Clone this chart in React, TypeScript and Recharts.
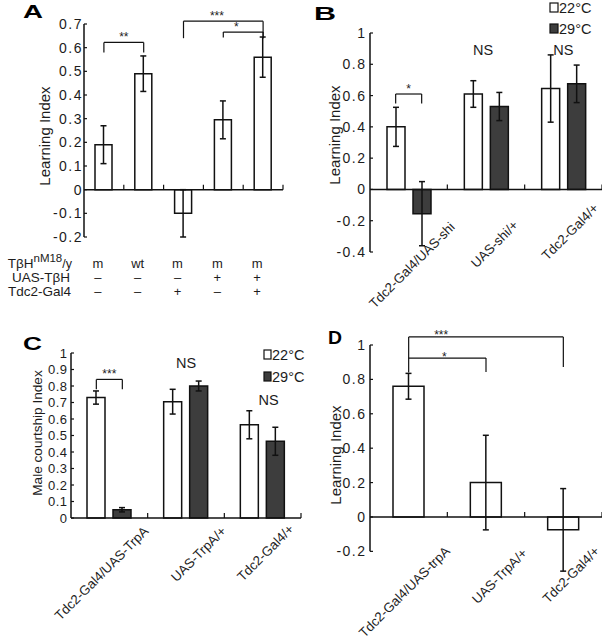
import React from 'react';
import {
  BarChart,
  Bar,
  XAxis,
  YAxis,
  ErrorBar,
  ReferenceLine,
  ReferenceArea,
  ReferenceDot,
  Legend,
} from 'recharts';

const FONT = '"Liberation Sans", Arial, Helvetica, sans-serif';
const INK = '#111111';
const TXT = '#1c1c1c';
const DARK = '#3d3d3d';

// panel A: TβH rescue
const aGenotype = ['m', 'wt', 'm', 'm', 'm'];
const aUasTbh = ['–', '–', '–', '+', '+'];
const aTdc2 = ['–', '–', '+', '–', '+'];
const aLearning = [0.19, 0.49, -0.1, 0.295, 0.56];
const aSem = [0.08, 0.075, 0.1, 0.08, 0.085];
const aTicks = [-0.2, -0.1, 0, 0.1, 0.2, 0.3, 0.4, 0.5, 0.6, 0.7];

// panel B: shibire
const bGroups = ['Tdc2-Gal4/UAS-shi', 'UAS-shi/+', 'Tdc2-Gal4/+'];
const b22 = [0.4, 0.61, 0.645];
const b22Sem = [0.125, 0.085, 0.215];
const b29 = [-0.155, 0.53, 0.675];
const b29Sem = [0.205, 0.09, 0.12];
const bTicks = [-0.4, -0.2, 0, 0.2, 0.4, 0.6, 0.8, 1];

// panel C: courtship with TrpA
const cGroups = ['Tdc2-Gal4/UAS-TrpA', 'UAS-TrpA/+', 'Tdc2-Gal4/+'];
const c22 = [0.73, 0.705, 0.565];
const c22Sem = [0.04, 0.075, 0.085];
const c29 = [0.05, 0.8, 0.465];
const c29Sem = [0.013, 0.03, 0.085];
const cTicks = [0, 0.1, 0.2, 0.3, 0.4, 0.5, 0.6, 0.7, 0.8, 0.9, 1];

// panel D: learning with TrpA
const dGroups = ['Tdc2-Gal4/UAS-trpA', 'UAS-TrpA/+', 'Tdc2-Gal4/+'];
const dLearning = [0.76, 0.2, -0.075];
const dSem = [0.075, 0.275, 0.24];
const dTicks = [-0.2, 0, 0.2, 0.4, 0.6, 0.8, 1];

const temps = ['22°C', '29°C'];

// significance brackets: from/to = bar slot, heights in index units
type Sig = { from: number; to: number; top: number; legL: number; legR: number; text: string; at?: number; drop?: number };
const aSigs: Sig[] = [
  { from: 0, to: 1, top: 0.622, legL: 0.58, legR: 0.58, text: '**' },
  { from: 2, to: 4, top: 0.712, legL: 0.64, legR: 0.64, text: '***', at: 0.42 },
  { from: 3, to: 4, top: 0.666, legL: 0.643, legR: 0.64, text: '*', at: 0.33 },
];
const bSigs: Sig[] = [{ from: 0, to: 1, top: 0.61, legL: 0.55, legR: 0.55, text: '*' }];
const cSigs: Sig[] = [{ from: 0, to: 1, top: 0.84, legL: 0.78, legR: 0.78, text: '***' }];
const dSigs: Sig[] = [
  { from: 0, to: 2, top: 1.047, legL: 0.84, legR: 0.872, text: '***', at: 0.21, drop: 4 },
  { from: 0, to: 1, top: 0.924, legL: 0.924, legR: 0.843, text: '*', at: 0.46, drop: 4 },
];

const aData = aLearning.map((v, i) => ({ key: `g${i}`, value: v, err: aSem[i] }));
const bData = bGroups.map((g, i) => ({ name: g, t22: b22[i], e22: b22Sem[i], t29: b29[i], e29: b29Sem[i] }));
const cData = cGroups.map((g, i) => ({ name: g, t22: c22[i], e22: c22Sem[i], t29: c29[i], e29: c29Sem[i] }));
const dData = dGroups.map((g, i) => ({ name: g, value: dLearning[i], err: dSem[i] }));

const BAR = 18;
const GAP = 8;

const fmt = (v: number) => {
  const r = Math.round(v * 10) / 10;
  return r === 0 ? '0' : String(r);
};

const yAxisProps = (ticks: number[], domain: [number, number], fontSize: number, spacing: number, margin: number) => ({
  width: 40,
  ticks,
  domain,
  interval: 0 as const,
  axisLine: { stroke: INK, strokeWidth: 1.5 },
  tickLine: { stroke: INK, strokeWidth: 1.2 },
  tickSize: -3,
  tickMargin: margin,
  tick: { fill: TXT, fontSize, fontFamily: FONT, letterSpacing: spacing },
  tickFormatter: fmt,
});

// zero line with small upward ticks at the category borders
const zeroAxis = (n: number) => (p: any) => {
  const step = (p.x2 - p.x1) / n;
  return (
    <g>
      <line x1={p.x1} x2={p.x2} y1={p.y1} y2={p.y1} stroke={INK} strokeWidth={1.5} />
      {Array.from({ length: n }, (_, k) => (
        <line key={k} x1={p.x1 + step * (k + 1)} x2={p.x1 + step * (k + 1)} y1={p.y1} y2={p.y1 - 5} stroke={INK} strokeWidth={1.2} />
      ))}
    </g>
  );
};

// left edge of a reference area, used as a y axis line shorter than the scale
const leftEdge = (p: any) => (
  <line x1={p.x} x2={p.x} y1={p.y} y2={p.y + p.height} stroke={INK} strokeWidth={1.5} />
);

// bar slot -> category on the x axis plus pixel shift inside the group
function slotOf(slot: number, cats: string[], paired: boolean) {
  if (!paired) return { cat: cats[slot], off: 0 };
  return { cat: cats[Math.floor(slot / 2)], off: ((slot % 2) - 0.5) * (BAR + GAP) };
}

function sigLines(s: Sig, cats: string[], paired: boolean, key: string) {
  const a = slotOf(s.from, cats, paired);
  const b = slotOf(s.to, cats, paired);
  const common = { ifOverflow: 'visible' as const };
  const leg = (off: number) => (p: any) => (
    <line x1={p.x1 + off} x2={p.x2 + off} y1={p.y1} y2={p.y2} stroke={INK} strokeWidth={1.2} />
  );
  const topLine = (p: any) => {
    const x1 = p.x1 + a.off;
    const x2 = p.x2 + b.off;
    const lx = x1 + (x2 - x1) * (s.at ?? 0.5);
    return (
      <g>
        <line x1={x1} x2={x2} y1={p.y1} y2={p.y2} stroke={INK} strokeWidth={1.2} />
        <text x={lx} y={p.y1 - 1.5 + (s.drop ?? 0)} textAnchor="middle" fontSize={12} fill={TXT} fontFamily={FONT}>
          {s.text}
        </text>
      </g>
    );
  };
  return [
    <ReferenceLine key={key + 'l'} {...common} segment={[{ x: a.cat, y: s.legL }, { x: a.cat, y: s.top }]} shape={leg(a.off)} />,
    <ReferenceLine key={key + 't'} {...common} segment={[{ x: a.cat, y: s.top }, { x: b.cat, y: s.top }]} shape={topLine} />,
    <ReferenceLine key={key + 'r'} {...common} segment={[{ x: b.cat, y: s.top }, { x: b.cat, y: s.legR }]} shape={leg(b.off)} />,
  ];
}

function nsMark(cat: string, y: number, dx: number, key: string) {
  const label = (p: any) => (
    <text x={p.viewBox.x + dx} y={p.viewBox.y} textAnchor="middle" fontSize={14.5} fill={TXT} fontFamily={FONT}>
      NS
    </text>
  );
  return <ReferenceDot key={key} x={cat} y={y} r={0} fill="none" stroke="none" ifOverflow="visible" label={label} />;
}

const aRows = [aGenotype, aUasTbh, aTdc2];
const TableTick = (p: any) => (
  <g>
    {aRows.map((row, r) => (
      <text key={r} x={p.x - 6} y={p.y + 31 + r * 14} textAnchor="middle" fontSize={13} fill={TXT} fontFamily={FONT}>
        {row[p.index]}
      </text>
    ))}
  </g>
);

const rotTick = (shift: number[][]) => (p: any) => {
  const [dx, dy] = shift[p.index] ?? [0, 0];
  const x = p.x + dx;
  const y = p.y + dy;
  return (
    <text x={x} y={y} transform={`rotate(-45 ${x} ${y})`} textAnchor="end" fontSize={13.3} fill={TXT} fontFamily={FONT}>
      {p.payload.value}
    </text>
  );
};

const tempLegend = (rowGap: number, sq: [number, number]) => (p: any) => (
  <svg width={60} height={48} style={{ overflow: 'visible', display: 'block' }}>
    {(p.payload ?? []).map((e: any, i: number) => (
      <g key={i}>
        <rect x={2} y={3 + i * rowGap} width={sq[0]} height={sq[1]} fill={e.color} stroke={INK} strokeWidth={1.2} />
        <text x={sq[0] + 3} y={12.5 + i * rowGap} fontSize={14.5} fill={TXT} fontFamily={FONT}>
          {e.value}
        </text>
      </g>
    ))}
  </svg>
);

const barStyle = { stroke: INK, strokeWidth: 1.5, isAnimationActive: false };
const errStyle = { stroke: INK, strokeWidth: 1.5, width: 3, direction: 'y' as const, isAnimationActive: false };

export default function App() {
  const aKeys = aData.map((d) => d.key);
  return (
    <div style={{ position: 'absolute', left: 0, top: 0, width: 602, height: 639, background: '#fff', overflow: 'hidden', fontFamily: FONT }}>
      {/* A */}
      <div style={{ position: 'absolute', left: 0, top: 0 }}>
        <BarChart width={300} height={320} data={aData} margin={{ top: 24, right: 17, bottom: 0, left: 44 }}>
          <XAxis dataKey="key" height={83} axisLine={false} tickLine={false} tickSize={0} tickMargin={0} interval={0} tick={TableTick} />
          <YAxis {...yAxisProps(aTicks, [-0.2, 0.7], 14, 1.5, 4)} />
          <ReferenceLine y={0} shape={zeroAxis(5)} />
          <Bar dataKey="value" fill="#ffffff" barSize={17} {...barStyle}>
            <ErrorBar dataKey="err" {...errStyle} />
          </Bar>
          {aSigs.flatMap((s, i) => sigLines(s, aKeys, false, `a${i}`))}
        </BarChart>
      </div>

      {/* B */}
      <div style={{ position: 'absolute', left: 300, top: 0 }}>
        <BarChart width={302} height={320} data={bData} barGap={GAP} margin={{ top: 33, right: 0, bottom: 0, left: 30 }}>
          <XAxis dataKey="name" height={68} axisLine={false} tickLine={false} tickSize={0} tickMargin={0} interval={0}
            tick={rotTick([[47, -24], [33, -26], [36, -43]])} />
          <YAxis {...yAxisProps(bTicks, [-0.4, 1], 14, 1.5, 6.5)} />
          <ReferenceLine y={0} shape={zeroAxis(3)} />
          <Bar dataKey="t22" name={temps[0]} fill="#ffffff" barSize={BAR} {...barStyle}>
            <ErrorBar dataKey="e22" {...errStyle} />
          </Bar>
          <Bar dataKey="t29" name={temps[1]} fill={DARK} barSize={BAR} {...barStyle}>
            <ErrorBar dataKey="e29" {...errStyle} />
          </Bar>
          {bSigs.flatMap((s, i) => sigLines(s, bGroups, true, `b${i}`))}
          {nsMark(bGroups[1], 0.86, -3, 'bns1')}
          {nsMark(bGroups[2], 0.86, 0, 'bns2')}
          <Legend layout="vertical" align="center" verticalAlign="middle" content={tempLegend(21, [8, 9])}
            wrapperStyle={{ left: 248, top: 0, width: 60, height: 48 }} />
        </BarChart>
      </div>

      {/* C */}
      <div style={{ position: 'absolute', left: 0, top: 320 }}>
        <BarChart width={310} height={319} data={cData} barGap={GAP} margin={{ top: 33, right: 9, bottom: 0, left: 31 }}>
          <XAxis dataKey="name" height={121} axisLine={false} tickLine={false} tickSize={0} tickMargin={0} interval={0}
            tick={rotTick([[40, 14], [41, 14], [32, 12]])} />
          <YAxis {...yAxisProps(cTicks, [0, 1], 13, 0.5, 6.5)} />
          <ReferenceLine y={0} shape={zeroAxis(3)} />
          <Bar dataKey="t22" name={temps[0]} fill="#ffffff" barSize={BAR} {...barStyle}>
            <ErrorBar dataKey="e22" {...errStyle} />
          </Bar>
          <Bar dataKey="t29" name={temps[1]} fill={DARK} barSize={BAR} {...barStyle}>
            <ErrorBar dataKey="e29" {...errStyle} />
          </Bar>
          {cSigs.flatMap((s, i) => sigLines(s, cGroups, true, `c${i}`))}
          {nsMark(cGroups[1], 0.91, 0, 'cns1')}
          {nsMark(cGroups[2], 0.685, 6, 'cns2')}
          <Legend layout="vertical" align="center" verticalAlign="middle" content={tempLegend(22, [7, 9])}
            wrapperStyle={{ left: 262, top: 27, width: 60, height: 48 }} />
        </BarChart>
      </div>

      {/* D */}
      <div style={{ position: 'absolute', left: 300, top: 320 }}>
        <BarChart width={302} height={319} data={dData} margin={{ top: 25, right: 0, bottom: 0, left: 30 }}>
          <XAxis dataKey="name" height={67} axisLine={false} tickLine={false} tickSize={0} tickMargin={0} interval={0}
            tick={rotTick([[42, -20], [42, -18], [37, -20]])} />
          <YAxis {...yAxisProps(dTicks, [-0.32, 1], 14, 1.5, 6.5)} axisLine={false} />
          <ReferenceArea y1={-0.2} y2={1} ifOverflow="visible" shape={leftEdge} />
          <ReferenceLine y={0} shape={zeroAxis(3)} />
          <Bar dataKey="value" fill="#ffffff" barSize={31} {...barStyle}>
            <ErrorBar dataKey="err" {...errStyle} />
          </Bar>
          {dSigs.flatMap((s, i) => sigLines(s, dGroups, false, `d${i}`))}
        </BarChart>
      </div>

      {/* panel letters, axis titles, genotype row labels */}
      <svg width={602} height={639} style={{ position: 'absolute', left: 0, top: 0, pointerEvents: 'none' }} fontFamily={FONT}>
        <g fontWeight="bold" fontSize={18} fill="#000">
          <text x={23} y={18} textLength={20} lengthAdjust="spacingAndGlyphs">A</text>
          <text x={314} y={20} textLength={22} lengthAdjust="spacingAndGlyphs">B</text>
          <text x={23} y={350} textLength={19} lengthAdjust="spacingAndGlyphs">C</text>
          <text x={328} y={344} textLength={14} lengthAdjust="spacingAndGlyphs">D</text>
        </g>
        <g fill={TXT} textAnchor="middle">
          <text x={50} y={136} fontSize={15} transform="rotate(-90 50 136)">Learning Index</text>
          <text x={340} y={135} fontSize={15} transform="rotate(-90 340 135)">Learning Index</text>
          <text x={42} y={433} fontSize={13.6} transform="rotate(-90 42 433)">Male courtship Index</text>
          <text x={341} y={455} fontSize={15} transform="rotate(-90 341 455)">Learning Index</text>
        </g>
        <g fill={TXT} textAnchor="end" fontSize={13.5}>
          <text x={72} y={268}>
            <tspan>TβH</tspan>
            <tspan dy={-6} fontSize={11.5}>nM18</tspan>
            <tspan dy={6} fontSize={12.5}>/y</tspan>
          </text>
          <text x={70} y={282}>UAS-TβH</text>
          <text x={71} y={296}>Tdc2-Gal4</text>
        </g>
      </svg>
    </div>
  );
}
